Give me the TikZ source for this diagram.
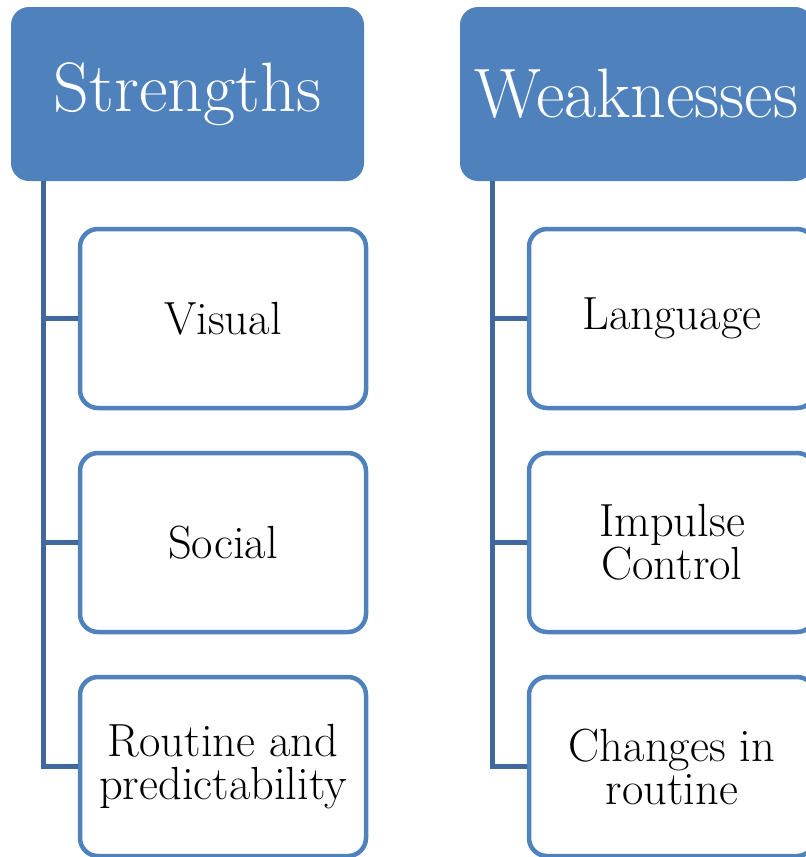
\documentclass[tikz,border=0pt]{standalone}
\usepackage{xcolor}
\usepackage{tikz}
\definecolor{boxblue}{RGB}{79,129,189}
\definecolor{linkblue}{RGB}{65,104,154}
\tikzstyle{head}=[rectangle,rounded corners=18pt,fill=boxblue,text=white,
  minimum width=353pt,minimum height=174pt,inner sep=0pt,
  font=\fontsize{70}{70}\selectfont]
\tikzstyle{item}=[rectangle,rounded corners=18pt,draw=boxblue,fill=white,line width=4.5pt,
  minimum width=286pt,minimum height=179pt,inner sep=0pt,align=center,
  font=\fontsize{46.5}{43}\selectfont]
\tikzstyle{link}=[draw=linkblue,line width=4.5pt]

\begin{document}
\begin{tikzpicture}[x=1pt,y=-1pt]
        \useasboundingbox (0,0) rectangle (806,857);
        \clip (0,0) rectangle (806,857);
        % strengths
        \node at (187.5, 94) [head] (strong) {Strengths};
        \node at (223, 318.5) [item] (visual) {Visual};
        \node at (223, 542.5) [item] (social) {Social};
        \node at (223, 766.5) [item] (routine) {Routine and\\predictability};
        \draw [link] ([xshift=32.5pt]strong.south west) |- (visual.west);
        \draw [link] ([xshift=32.5pt]strong.south west) |- (social.west);
        \draw [link] ([xshift=32.5pt]strong.south west) |- (routine.west);
        % weaknesses
        \node at (636.5, 94) [head] (weak) {Weaknesses};
        \node at (672, 318.5) [item] (lang) {Language};
        \node at (672, 542.5) [item] (impulse) {Impulse\\Control};
        \node at (672, 766.5) [item] (change) {Changes in\\routine};
        \draw [link] ([xshift=32.5pt]weak.south west) |- (lang.west);
        \draw [link] ([xshift=32.5pt]weak.south west) |- (impulse.west);
        \draw [link] ([xshift=32.5pt]weak.south west) |- (change.west);
      \end{tikzpicture}
\end{document}
